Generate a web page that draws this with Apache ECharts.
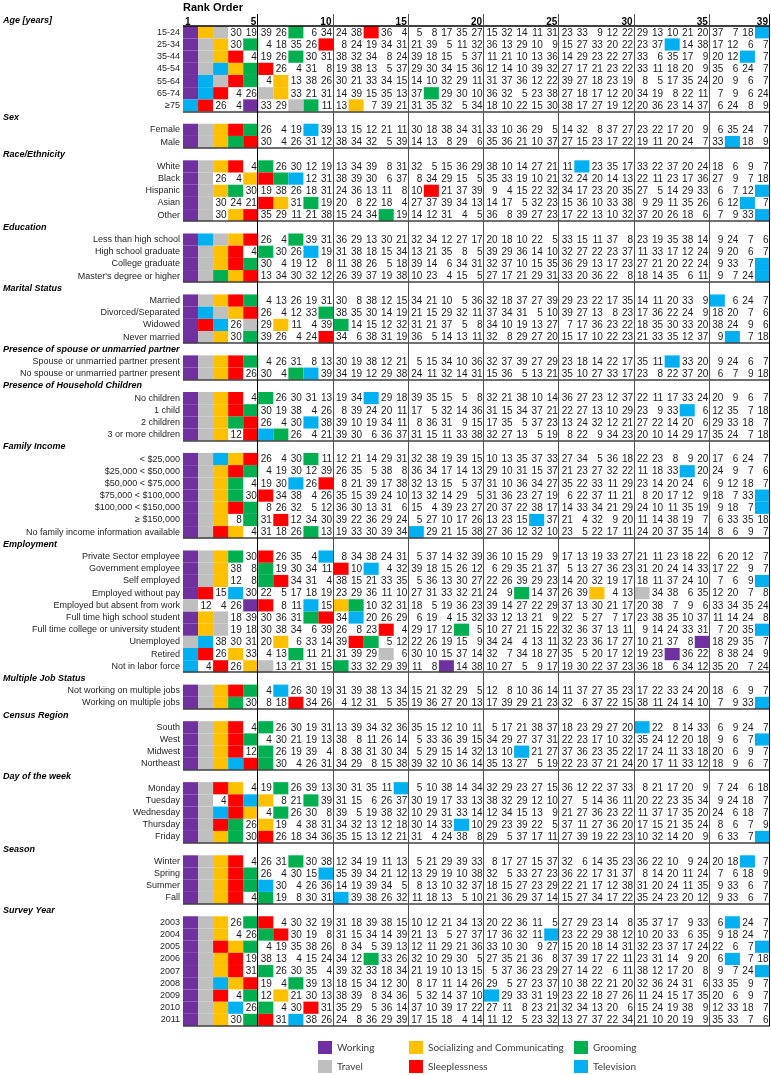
<!DOCTYPE html>
<html><head><meta charset="utf-8">
<script src="https://cdn.jsdelivr.net/npm/echarts@6/dist/echarts.min.js"></script>
<style>html,body{margin:0;padding:0;background:#fff}#c{width:771px;height:1075px}</style>
</head><body><div id="c"></div>
<script>
// Activity keys for the six highlighted activities
const W='W',T='T',S='S',Z='Z',G='G',V='V';
const activityKeys=[W,S,G,T,Z,V];
const activityNames={W:'Working',T:'Travel',S:'Socializing and Communicating',Z:'Sleeplessness',G:'Grooming',V:'Television'};
const activityColors={W:'#7030A0',T:'#BFBFBF',S:'#FFC000',Z:'#FF0000',G:'#00B050',V:'#00B0F0'};

const rankOrder=[1,2,3,4,5,6,7,8,9,10,11,12,13,14,15,16,17,18,19,20,21,22,23,24,25,26,27,28,29,30,31,32,33,34,35,36,37,38,39];
const rankTicks=[1,5,10,15,20,25,30,35,39];

const ageLabels=['15-24','25-34','35-44','45-54','55-64','65-74','\u226575'];
const ageRanks=[
[W,S,T,30,19,39,26,G,6,34,24,38,Z,36,4,5,8,17,35,27,15,32,14,11,31,23,33,9,12,22,29,13,10,21,20,37,7,18,V],
[W,T,S,30,G,4,18,35,26,Z,8,24,19,34,31,21,39,5,11,32,36,13,29,10,9,15,27,33,20,22,23,37,V,14,38,17,12,6,7],
[W,T,S,Z,4,19,26,G,30,31,38,32,34,8,24,39,18,15,5,37,11,21,10,13,36,14,29,23,22,27,33,6,35,17,9,20,12,V,7],
[W,T,V,S,G,Z,26,4,31,8,19,38,13,5,37,29,30,34,15,36,12,14,10,39,32,27,17,21,23,22,33,11,18,20,9,35,6,24,7],
[W,V,T,Z,G,4,S,13,38,26,30,21,33,34,15,14,10,32,29,11,31,37,36,12,22,39,27,18,23,19,8,5,17,35,24,20,9,6,7],
[W,V,Z,4,26,T,S,33,21,31,14,39,15,35,13,37,G,29,30,10,36,32,5,23,38,27,18,17,12,20,34,19,8,22,11,7,9,6,24],
[V,Z,26,4,W,33,29,T,G,11,13,S,7,39,21,31,35,32,5,34,18,10,22,15,30,38,17,27,19,12,20,36,23,14,37,6,24,8,9]];

const sexLabels=['Female','Male'];
const sexRanks=[
[W,T,S,Z,G,26,4,19,V,39,13,15,12,21,11,30,18,38,34,31,33,10,36,29,5,14,32,8,37,27,23,22,17,20,9,6,35,24,7],
[W,T,S,G,Z,30,4,26,31,12,38,34,32,5,39,14,13,8,29,6,35,36,21,10,37,27,15,23,17,22,19,11,20,24,7,33,V,18,9]];

const raceLabels=['White','Black','Hispanic','Asian','Other'];
const raceRanks=[
[W,T,S,Z,4,G,26,30,12,19,13,34,39,8,31,32,5,15,36,29,38,10,14,27,21,11,V,23,35,17,33,22,37,20,24,18,6,9,7],
[W,T,26,4,S,Z,G,V,12,31,38,39,30,6,37,8,34,29,15,5,35,33,19,10,21,32,24,20,14,13,22,11,23,17,36,27,9,7,18],
[W,T,S,G,30,19,38,26,18,31,24,36,13,11,8,10,Z,21,37,39,9,4,15,22,32,34,17,23,20,35,27,5,14,29,33,6,7,12,V],
[W,T,30,24,21,Z,S,31,G,19,20,8,22,18,4,27,37,39,34,13,14,17,5,32,23,15,36,10,33,38,9,29,11,35,26,6,12,V,7],
[W,T,30,S,Z,35,29,11,21,38,15,24,34,G,19,14,12,31,4,5,36,8,39,27,23,17,22,13,10,32,37,20,26,18,6,7,9,33,V]];

const eduLabels=['Less than high school','High school graduate','College graduate',"Master's degree or higher"];
const eduRanks=[
[W,V,T,S,Z,26,4,G,39,31,36,29,13,30,21,32,34,12,27,17,20,18,10,22,5,33,15,11,37,8,23,19,35,38,14,9,24,7,6],
[W,T,S,Z,4,G,30,26,V,19,31,38,18,15,34,13,21,35,8,5,39,29,36,14,10,32,27,22,23,37,11,33,17,12,24,9,20,6,7],
[W,T,S,Z,G,30,4,19,12,8,11,38,26,5,18,39,14,6,34,31,32,37,10,15,35,36,29,13,17,23,27,21,20,22,24,9,33,7,V],
[W,T,G,S,Z,13,34,30,32,12,26,39,37,19,38,10,23,4,15,5,27,17,21,29,31,33,20,36,22,8,18,14,35,6,11,9,7,24,V]];

const maritalLabels=['Married','Divorced/Separated','Widowed','Never married'];
const maritalRanks=[
[W,T,S,Z,G,4,13,26,19,31,30,8,38,12,15,34,21,10,5,36,32,18,37,27,39,29,23,22,17,35,14,11,20,33,9,V,6,24,7],
[W,V,T,S,Z,26,4,12,33,G,38,35,30,14,19,21,15,29,32,11,37,34,31,5,10,39,27,13,8,23,17,36,22,24,9,18,20,7,6],
[W,Z,V,26,T,29,S,11,4,39,G,14,15,12,32,31,21,37,5,8,34,10,19,13,27,7,17,36,23,22,18,35,30,33,20,38,24,9,6],
[W,T,S,30,G,39,26,4,24,Z,34,6,38,31,19,36,5,14,13,11,32,8,29,27,20,15,17,10,22,23,21,33,35,12,37,9,V,7,18]];

const spouseLabels=['Spouse or unmarried partner present','No spouse or unmarried partner present'];
const spouseRanks=[
[W,T,S,Z,G,4,26,31,8,13,30,19,38,12,21,5,15,34,10,36,32,37,39,27,29,23,18,14,22,17,35,11,V,33,20,9,24,6,7],
[W,T,S,Z,26,30,4,G,V,39,34,19,12,29,38,24,11,32,14,31,15,36,5,13,21,35,10,27,33,17,23,8,22,37,20,6,7,9,18]];

const childLabels=['No children','1 child','2 children','3 or more children'];
const childRanks=[
[W,T,S,Z,4,G,26,30,31,13,19,34,V,29,18,39,35,15,5,8,32,21,38,10,14,36,27,23,12,37,22,11,17,33,24,20,9,6,7],
[W,T,S,Z,G,30,19,38,4,26,8,39,24,20,11,17,5,32,14,36,31,15,34,37,21,22,27,13,10,29,23,9,33,V,6,12,35,7,18],
[W,T,S,G,Z,26,4,30,V,38,39,10,19,34,11,8,36,31,9,15,17,35,5,37,23,13,24,32,12,21,27,22,14,20,6,29,33,18,7],
[W,T,S,12,Z,V,G,26,4,21,39,30,6,36,37,31,15,11,33,38,32,27,13,5,19,8,22,9,34,23,20,10,14,29,17,35,24,7,18]];

const incomeLabels=['< $25,000','$25,000 < $50,000','$50,000 < $75,000','$75,000 < $100,000','$100,000 < $150,000','\u2265 $150,000','No family income information available'];
const incomeRanks=[
[W,T,V,S,Z,26,4,30,G,11,12,21,14,29,31,32,38,19,39,15,10,13,35,37,33,27,34,5,36,18,22,23,8,9,20,17,6,24,7],
[W,T,S,Z,G,4,19,30,12,39,26,35,5,38,8,36,34,17,14,13,29,10,31,15,37,21,23,27,32,22,11,18,33,V,20,24,9,7,6],
[W,T,S,G,4,19,30,V,26,Z,8,21,39,17,38,32,13,15,5,37,31,10,36,34,27,35,22,33,11,29,23,14,20,24,6,9,12,18,7],
[W,T,S,G,30,Z,34,38,4,26,35,15,39,24,10,13,32,14,29,5,31,36,23,27,19,6,22,37,11,21,8,20,17,12,9,18,7,33,V],
[W,T,S,Z,G,8,26,32,5,12,36,30,13,31,6,15,4,39,23,27,20,37,22,38,17,14,33,34,21,29,24,10,11,35,19,9,18,7,V],
[W,T,S,8,G,31,Z,12,34,30,39,22,36,29,24,5,27,10,17,26,13,23,15,V,37,21,4,32,9,20,11,14,38,19,7,6,33,35,18],
[W,T,Z,S,4,31,18,26,G,13,19,33,30,39,34,V,29,21,15,38,27,36,12,32,10,23,5,22,17,11,24,20,37,35,14,8,6,9,7]];

const employLabels=['Private Sector employee','Government employee','Self employed','Employed without pay','Employed but absent from work','Full time high school student','Full time college or university student','Unemployed','Retired','Not in labor force'];
const employRanks=[
[W,T,S,G,30,Z,26,35,4,V,8,34,38,24,31,5,37,14,32,39,36,10,15,29,9,17,13,19,33,27,21,11,23,18,22,6,20,12,7],
[W,T,S,38,8,G,19,30,34,11,Z,10,V,4,32,39,18,15,26,12,6,29,35,21,37,5,13,27,36,23,31,20,24,14,33,17,22,9,7],
[W,T,S,12,8,G,Z,34,31,4,38,15,21,33,35,5,36,13,30,27,22,26,39,29,23,14,20,32,19,17,18,11,37,24,10,7,6,9,V],
[W,Z,15,V,30,22,5,17,18,19,23,29,36,11,10,27,31,33,32,21,24,9,G,14,37,26,39,S,4,13,T,34,38,6,35,12,20,7,8],
[T,12,4,26,W,Z,8,11,V,15,S,G,10,32,31,18,5,19,36,23,39,14,27,22,29,37,13,30,21,17,20,38,7,9,6,33,34,35,24],
[W,S,T,18,39,30,36,31,G,Z,34,V,20,26,29,6,19,4,15,32,33,12,13,21,9,22,5,27,7,17,23,38,35,10,37,11,14,24,8],
[W,S,T,19,18,30,38,34,6,39,26,8,23,Z,4,29,17,12,G,5,10,27,21,15,22,32,36,37,13,11,9,14,24,33,31,7,20,35,V],
[T,V,38,30,31,20,S,6,33,14,39,Z,G,5,12,22,26,19,15,9,34,24,4,13,11,32,23,36,17,27,10,21,37,8,W,18,29,35,7],
[V,Z,26,S,33,4,13,G,11,21,31,39,29,T,6,30,10,15,37,14,32,7,34,18,27,35,5,20,17,12,19,23,W,36,22,8,38,24,9],
[V,4,Z,26,S,T,13,21,31,15,G,33,32,29,39,11,8,W,14,38,10,27,5,9,17,19,30,22,37,23,36,18,6,34,12,35,20,7,24]];

const multiLabels=['Not working on multiple jobs','Working on multiple jobs'];
const multiRanks=[
[W,T,S,Z,G,4,V,26,30,19,31,39,38,13,34,15,21,32,29,5,12,8,10,36,14,11,37,27,35,23,17,22,33,24,20,18,6,9,7],
[W,T,S,G,30,8,18,Z,34,26,4,12,31,5,35,19,36,27,20,13,17,39,29,21,23,32,6,37,22,15,38,11,24,14,10,7,9,33,V]];

const regionLabels=['South','West','Midwest','Northeast'];
const regionRanks=[
[W,T,S,Z,4,G,26,30,19,31,13,39,34,32,36,35,15,12,10,11,5,17,21,38,37,18,23,29,27,20,V,22,8,14,33,6,9,24,7],
[W,T,S,Z,G,4,30,21,19,13,38,8,11,26,14,5,33,36,39,15,34,29,27,37,31,22,23,17,10,32,35,24,12,20,18,9,6,7,V],
[W,T,S,Z,12,G,26,19,39,4,8,38,31,30,34,5,29,15,14,32,13,10,V,21,27,37,36,23,35,22,17,24,11,33,18,20,6,9,7],
[W,T,S,V,Z,G,30,4,26,31,34,29,8,15,38,39,32,10,36,14,35,13,27,5,19,22,23,37,21,24,20,17,11,33,12,18,9,6,7]];

const dayLabels=['Monday','Tuesday','Wednesday','Thursday','Friday'];
const dayRanks=[
[W,T,Z,S,4,19,G,26,39,13,30,31,35,11,V,5,10,38,14,34,32,29,23,27,15,36,12,22,37,33,8,21,17,20,9,7,24,6,18],
[W,T,4,Z,V,S,8,21,G,39,31,15,6,26,37,30,19,17,33,13,38,32,29,12,10,27,5,14,36,11,20,22,23,35,34,9,24,18,7],
[W,T,V,Z,S,4,G,26,30,8,39,5,19,38,32,10,29,31,33,14,12,34,15,13,9,21,27,36,23,22,11,37,17,35,20,24,6,18,7],
[W,T,Z,G,26,S,19,4,38,31,34,32,13,12,18,30,14,33,V,10,29,23,39,22,5,37,11,27,36,20,17,15,21,35,24,8,6,7,9],
[W,T,S,G,30,Z,26,18,34,36,35,15,13,12,21,31,4,24,38,8,29,5,37,17,11,27,39,19,22,23,10,32,14,20,9,6,33,7,V]];

const seasonLabels=['Winter','Spring','Summer','Fall'];
const seasonRanks=[
[W,T,S,Z,4,26,31,G,30,38,12,34,19,11,13,5,21,29,39,33,8,17,27,15,37,32,6,14,35,23,36,22,10,9,24,20,18,V,7],
[W,T,S,Z,G,26,4,30,15,V,35,39,34,21,12,13,29,19,10,38,32,5,33,27,23,36,22,17,31,37,8,14,20,11,24,7,6,18,9],
[W,T,S,Z,G,V,30,4,26,36,14,19,39,34,5,8,13,10,32,37,18,15,27,23,29,22,21,17,12,38,31,20,24,11,35,9,33,6,7],
[W,T,S,Z,4,G,19,8,30,31,V,39,38,26,32,11,18,13,5,10,21,36,29,37,14,15,27,34,17,22,35,24,23,20,12,9,33,6,7]];

const yearLabels=['2003','2004','2005','2006','2007','2008','2009','2010','2011'];
const yearRanks=[
[W,T,S,26,G,Z,4,30,32,19,31,18,39,38,15,10,12,21,34,13,20,22,36,11,5,27,29,23,14,8,35,37,17,9,33,6,V,24,7],
[W,T,S,4,26,G,Z,30,19,8,31,15,34,14,39,21,13,5,27,37,17,36,32,11,V,23,22,29,38,12,10,20,33,6,35,9,18,24,7],
[W,T,Z,S,G,4,19,35,38,26,8,34,5,39,13,12,11,29,21,36,33,10,30,9,27,15,20,18,14,31,32,23,37,17,24,22,6,7,V],
[W,T,S,Z,19,38,13,4,15,24,34,12,G,33,26,32,10,29,30,5,27,35,21,36,8,37,39,17,22,11,23,31,14,9,20,6,V,7,18],
[W,T,S,Z,31,G,26,30,35,4,39,32,33,18,34,21,19,10,13,15,5,37,36,23,29,27,14,22,6,11,38,12,17,20,8,9,7,24,V],
[W,T,V,S,Z,19,4,G,39,13,18,15,34,12,30,8,17,11,14,26,29,5,27,23,37,10,38,22,21,20,32,36,24,31,6,33,35,9,7],
[W,T,Z,4,G,12,S,21,30,13,38,39,8,34,36,5,32,14,37,10,V,29,33,31,19,23,22,18,27,26,11,24,15,17,35,20,6,9,7],
[W,T,S,V,26,G,4,30,Z,31,35,29,5,36,14,37,10,39,17,22,27,11,8,23,21,32,34,13,20,6,15,24,19,38,9,12,33,18,7],
[W,T,S,30,G,Z,31,V,38,26,24,8,36,29,39,17,15,18,4,14,11,12,5,23,32,13,27,37,22,34,21,10,20,19,9,35,33,7,6]];

const sections=[
['Age [years]',ageLabels,ageRanks],
['Sex',sexLabels,sexRanks],
['Race/Ethnicity',raceLabels,raceRanks],
['Education',eduLabels,eduRanks],
['Marital Status',maritalLabels,maritalRanks],
['Presence of spouse or unmarried partner',spouseLabels,spouseRanks],
['Presence of Household Children',childLabels,childRanks],
['Family Income',incomeLabels,incomeRanks],
['Employment',employLabels,employRanks],
['Multiple Job Status',multiLabels,multiRanks],
['Census Region',regionLabels,regionRanks],
['Day of the week',dayLabels,dayRanks],
['Season',seasonLabels,seasonRanks],
['Survey Year',yearLabels,yearRanks]];

// build categories and cell lists
const yCats=[], isHeader=[], lineData=[];
const cellsByKey={}; activityKeys.forEach(k=>cellsByKey[k]=[]);
const numCells=[];
sections.forEach(([title,labels,ranks],si)=>{
  yCats.push(title); isHeader.push(true);
  if(si===0) lineData.push([0,yCats.length-1,3]);
  labels.forEach((lab,li)=>{
    yCats.push(lab); isHeader.push(false);
    const r=yCats.length-1;
    ranks[li].forEach((v,ci)=>{
      if(typeof v==='string') cellsByKey[v].push([ci,r]);
      else numCells.push([ci,r,v]);
    });
  });
  lineData.push([0,yCats.length-1,2]);
});
[5,10,15,20,25,30,35,39].forEach(b=>lineData.push([b-1,0,(b===5||b===39)?1:0]));

function renderCell(params,api){
  const c=api.coord([api.value(0),api.value(1)]);
  const s=api.size([1,1]);
  return {type:'rect',shape:{x:c[0]-s[0]/2,y:c[1]-s[1]/2,width:s[0],height:s[1]},style:{fill:api.visual('color')}};
}
function renderNum(params,api){
  const c=api.coord([api.value(0),api.value(1)]);
  const s=api.size([1,1]);
  return {type:'text',x:c[0]+s[0]/2-1.5,y:c[1]+0.5,style:{text:String(api.value(2)),align:'right',verticalAlign:'middle',fill:'#1a1a1a',fontSize:10,fontFamily:'"Liberation Sans", Arial, sans-serif'}};
}
function renderLine(params,api){
  const cs=params.coordSys;
  const kind=api.value(2);
  const p=api.coord([api.value(0),api.value(1)]);
  const sz=api.size([1,1]);
  if(kind<2){
    const x=Math.round(p[0]+sz[0]/2)-0.5;
    return {type:'line',shape:{x1:x,y1:cs.y,x2:x,y2:cs.y+cs.height},style:{stroke:kind===1?'#000':'#505050',lineWidth:1}};
  }
  const y=Math.round(p[1]+sz[1]/2);
  return {type:'line',shape:{x1:cs.x,y1:y,x2:cs.x+cs.width,y2:y},style:{stroke:kind===3?'#000':'#404040',lineWidth:kind===3?1.6:1.4}};
}

const series=activityKeys.map(k=>({
  type:'custom',name:activityNames[k],renderItem:renderCell,
  encode:{x:0,y:1},itemStyle:{color:activityColors[k]},data:cellsByKey[k],z:2
}));
series.push({type:'custom',name:'rank',renderItem:renderNum,encode:{x:0,y:1},data:numCells,z:3});
series.push({type:'custom',name:'lines',renderItem:renderLine,encode:{x:0,y:1},data:lineData,z:4,silent:true});

const legendBase={orient:'vertical',top:1041,padding:0,itemWidth:14,itemHeight:13,itemGap:6,icon:'rect',
  textStyle:{fontSize:10,color:'#404040',fontFamily:'Lato, "Open Sans", sans-serif'}};

const chart=echarts.init(document.getElementById('c'),null,{renderer:'canvas'});
chart.setOption({
  animation:false,
  backgroundColor:'#fff',
  title:{text:'Rank Order',left:183,top:2,padding:0,textStyle:{fontSize:11,fontWeight:'bold',color:'#000',fontFamily:'"Liberation Sans", Arial, sans-serif'}},
  legend:[
    Object.assign({left:318,data:['Working','Travel']},legendBase),
    Object.assign({left:409,data:['Socializing and Communicating','Sleeplessness']},legendBase),
    Object.assign({left:574,data:['Grooming','Television']},legendBase)
  ],
  grid:{left:183,right:1,top:14,bottom:49,containLabel:false},
  xAxis:{type:'category',position:'top',data:rankOrder.map(String),
    axisLine:{show:false},axisTick:{show:false},splitLine:{show:false},
    axisLabel:{inside:true,margin:3,interval:(i)=>rankTicks.includes(i+1),
      formatter:(v,i)=>i===0?'{l|'+v+'}':'{r|'+v+'}',
      rich:{l:{width:11,align:'left',fontWeight:'bold',fontSize:10,color:'#000',fontFamily:'"Liberation Sans", Arial, sans-serif'},
            r:{width:11,align:'right',fontWeight:'bold',fontSize:10,color:'#000',fontFamily:'"Liberation Sans", Arial, sans-serif'}}}},
  yAxis:{type:'category',inverse:true,data:yCats,
    axisLine:{show:false},axisTick:{show:false},splitLine:{show:false},
    axisLabel:{interval:0,margin:3,fontSize:9,color:'#262626',fontFamily:'"Liberation Sans", Arial, sans-serif',
      formatter:(v,i)=>isHeader[i]?'{h|'+v+'}':v,
      rich:{h:{width:177,align:'left',fontWeight:'bold',fontStyle:'italic',fontSize:9,color:'#000',fontFamily:'"Liberation Sans", Arial, sans-serif'}}}},
  series:series
});
</script></body></html>
